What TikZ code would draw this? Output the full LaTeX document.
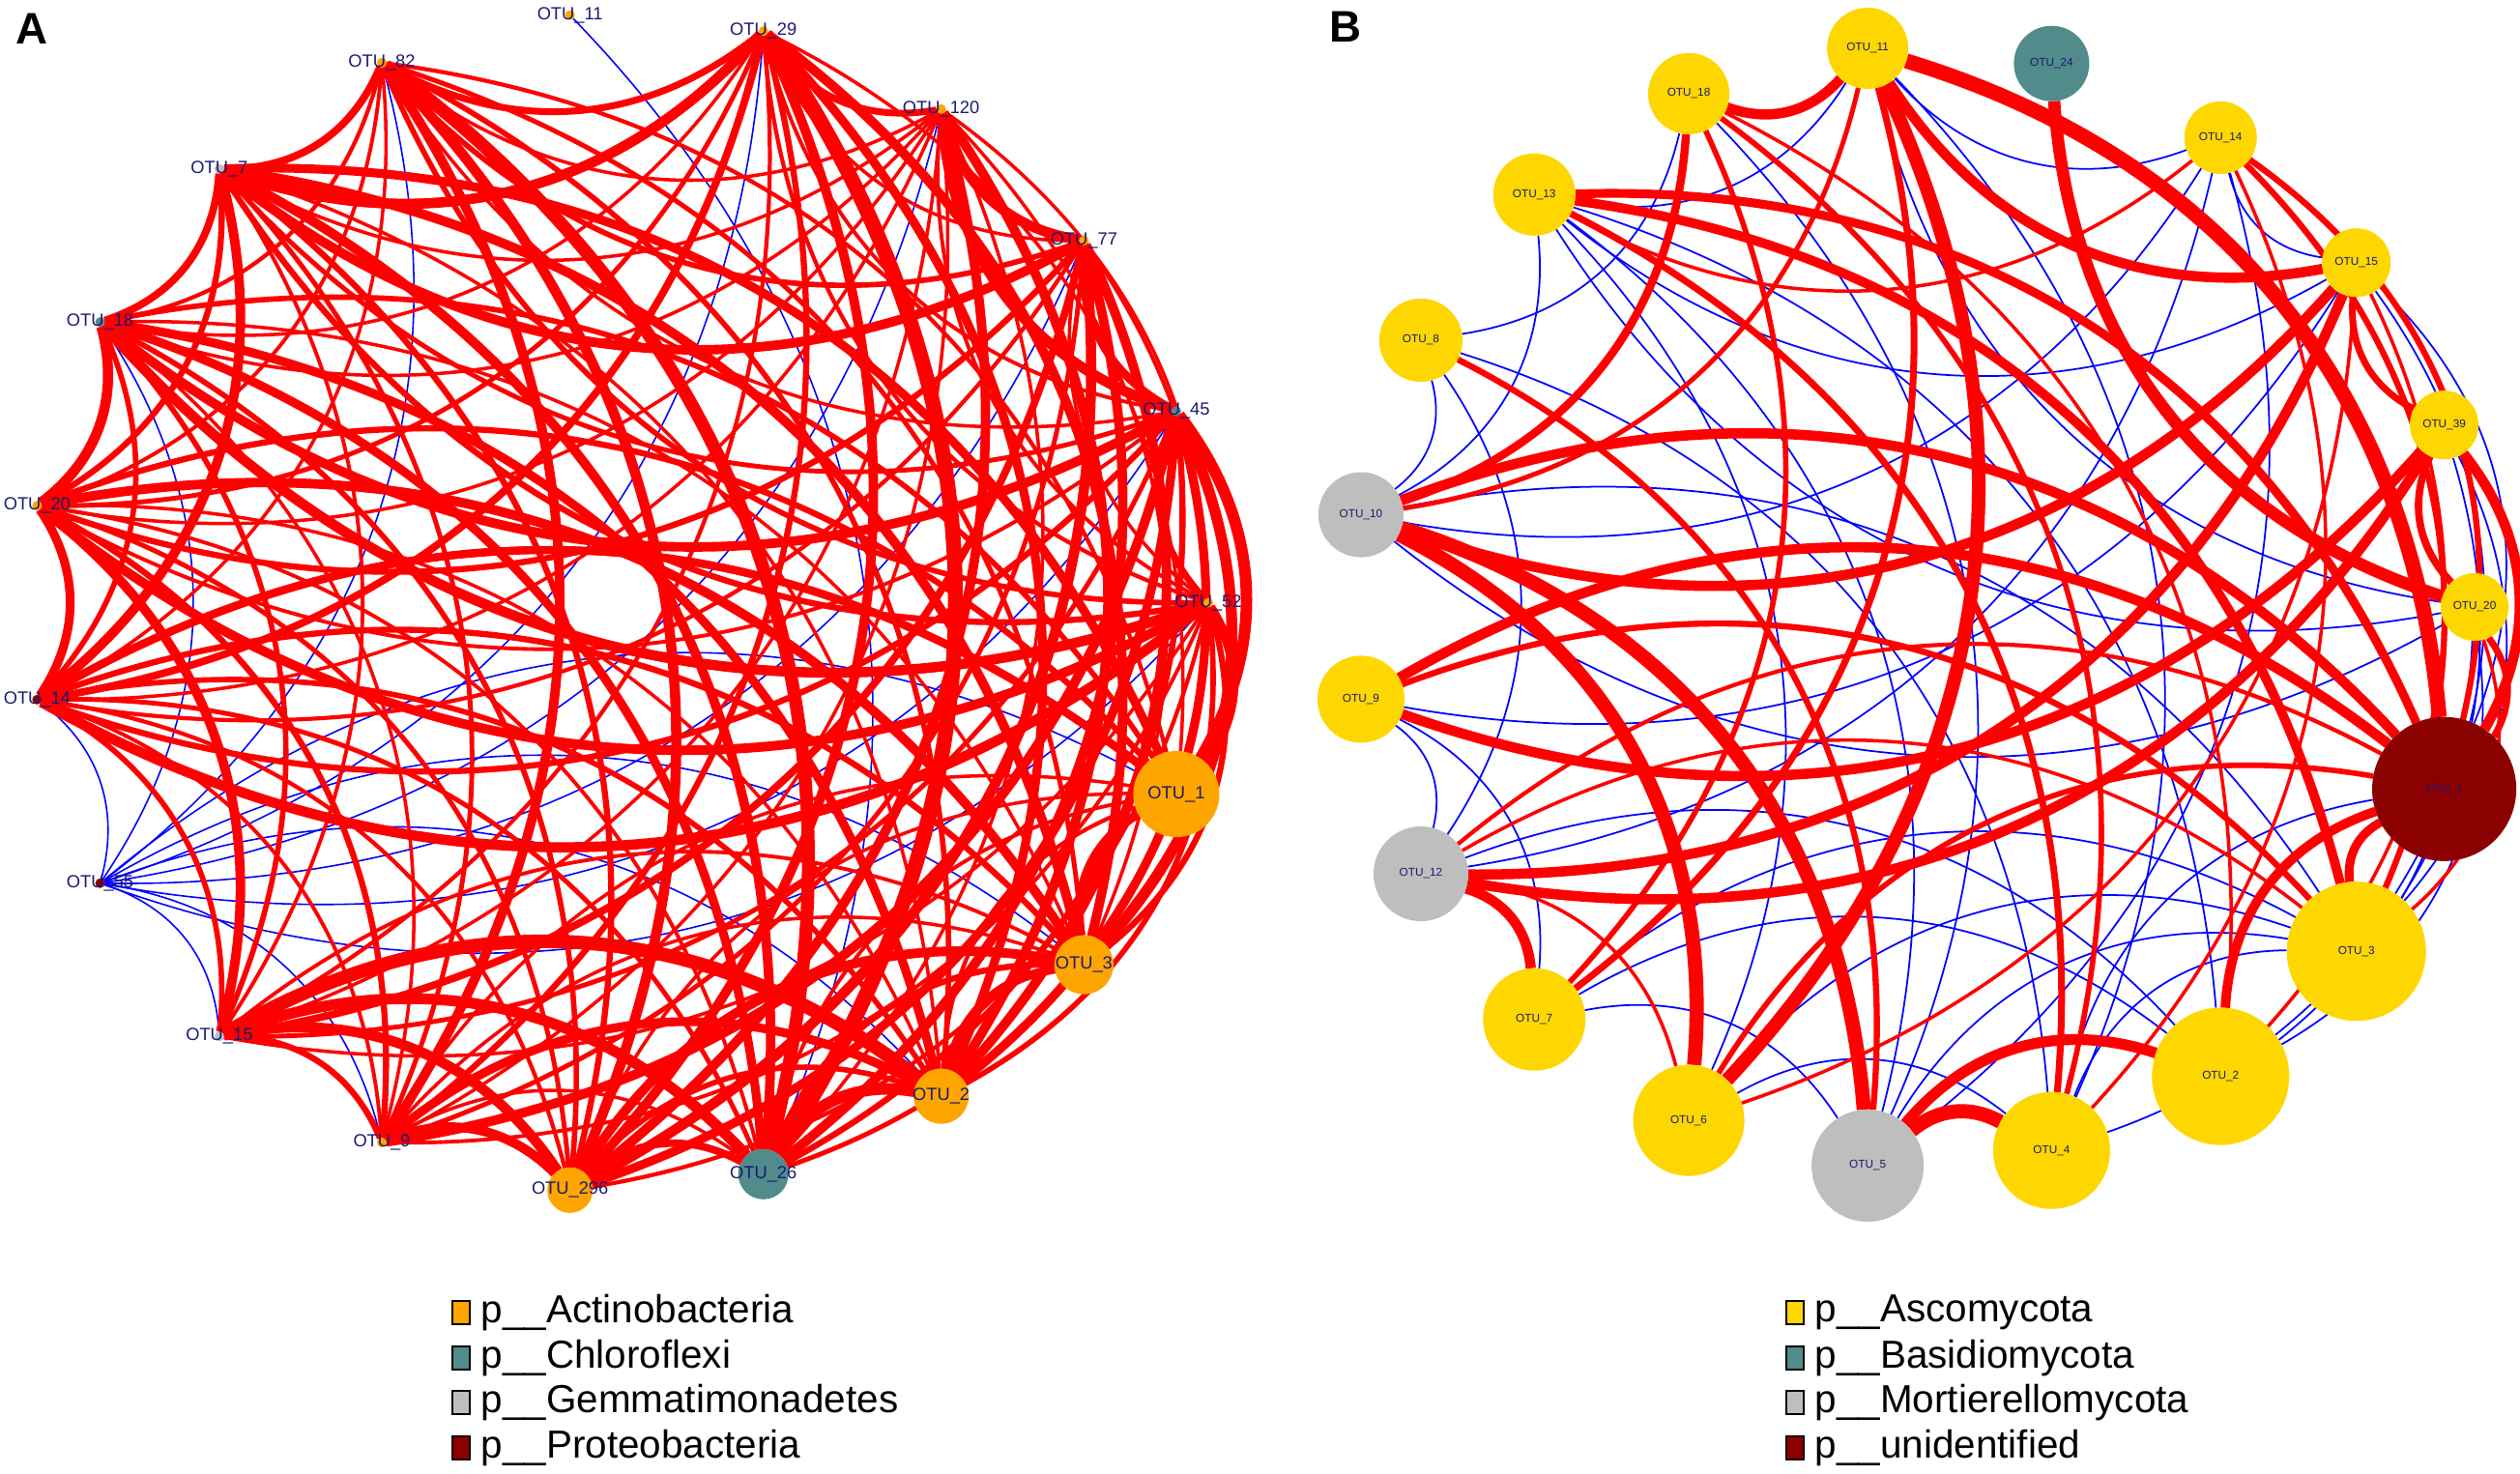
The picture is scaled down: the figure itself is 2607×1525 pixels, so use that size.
\documentclass[tikz,border=0pt]{standalone}
\usepackage{fontspec}
\setmainfont{Liberation Sans}
\pgfdeclarelayer{bgl}
\pgfdeclarelayer{edges}
\pgfsetlayers{bgl,edges,main}
\definecolor{actino}{HTML}{FFA500}
\definecolor{chloro}{HTML}{528B8B}
\definecolor{gemma}{HTML}{BEBEBE}
\definecolor{proteo}{HTML}{8B0000}
\definecolor{asco}{HTML}{FFD700}
\definecolor{navylab}{HTML}{1A1A70}
\definecolor{edgered}{HTML}{FF0000}
\definecolor{edgeblue}{HTML}{0000FF}
\begin{document}
\begin{tikzpicture}[x=0.01cm, y=0.01cm,
  vtx/.style={circle, inner sep=0pt, outer sep=0pt, draw=none},
  alab/.style={font=\fontsize{5.2}{6}\selectfont, text=navylab, inner sep=0pt},
  blab/.style={font=\fontsize{3.35}{4}\selectfont, text=navylab, inner sep=0pt},
  redE/.style={draw=edgered},
  blueE/.style={draw=edgeblue, line width=0.45pt},
  bendE/.style={bend left=34},
  legbox/.style={rectangle, draw=black, line width=0.5pt, minimum width=0.18cm, minimum height=0.24cm, inner sep=0pt},
  legtxt/.style={anchor=west, font=\fontsize{11.5}{13}\selectfont, inner sep=0pt},
  panel/.style={font=\bfseries\fontsize{13}{13}\selectfont, inner sep=0pt}
]
\useasboundingbox (0,0) rectangle (2607,1525);
\begin{pgfonlayer}{bgl}
\fill[white] (0,0) rectangle (2607,1525);
\end{pgfonlayer}

% ---------------- Panel A nodes ----------------
\begin{scope}[shift={(640,901.5)}]
\foreach \i/\n/\c/\d in {0/52/actino/0.10, 1/45/chloro/0.10, 2/77/actino/0.10, 3/120/actino/0.10,
  4/29/actino/0.10, 5/11/actino/0.10, 6/82/actino/0.10, 7/7/gemma/0.10, 8/18/chloro/0.10,
  9/20/actino/0.10, 10/14/proteo/0.10, 11/55/proteo/0.10, 12/15/gemma/0.10, 13/9/actino/0.10,
  14/296/actino/0.47, 15/26/chloro/0.52, 16/2/actino/0.57, 17/3/actino/0.61, 18/1/actino/0.89}{
  \node[vtx, fill=\c, minimum size=\d cm, label={[alab]center:OTU\_\n}] (a\i) at ({\i*360/19}:610) {};
}
\end{scope}

% ---------------- Panel B nodes ----------------
\begin{scope}[shift={(1980,897)}]
\foreach \i/\n/\c/\d in {0/20/asco/0.70, 1/39/asco/0.71, 2/15/asco/0.71, 3/14/asco/0.75,
  4/24/chloro/0.78, 5/11/asco/0.84, 6/18/asco/0.84, 7/13/asco/0.85, 8/8/asco/0.86,
  9/10/gemma/0.88, 10/9/asco/0.90, 11/12/gemma/0.98, 12/7/asco/1.06, 13/6/asco/1.15,
  14/5/gemma/1.16, 15/4/asco/1.21, 16/2/asco/1.42, 17/3/asco/1.44, 18/1/proteo/1.49}{
  \node[vtx, fill=\c, minimum size=\d cm, label={[blab]center:OTU\_\n}] (b\i) at ({\i*360/19}:580) {};
}
\end{scope}

% ---------------- Edges ----------------
\begin{pgfonlayer}{edges}
% A: blue
\foreach \i/\j in {5/15, 6/11, 8/11, 10/11, 11/12, 11/13, 11/16, 11/18, 0/11, 1/11, 2/11, 3/11, 4/11, 11/17}{
  \draw[blueE] (a\i) to[bendE] (a\j);
}
% A: red, dense
\foreach \i in {0,...,17}{
  \foreach \j in {1,...,18}{
    \ifnum\i<\j
      \pgfmathtruncatemacro\ok{(\i!=5)*(\i!=11)*(\j!=5)*(\j!=11)}
      \ifnum\ok=1
        \pgfmathtruncatemacro\h{mod(7*\i+11*\j+3*\i*\j,10)}
        \ifnum\h>0
          \pgfmathsetmacro\lw{{0,1.0,1.0,1.1,1.2,1.4,1.6,1.8,2.2,2.8}[\h]}
          \draw[redE, line width=\lw pt] (a\i) to[bendE] (a\j);
        \fi
      \fi
    \fi
  }
}
% A: red, neighbours round the ring
\foreach \i/\j/\w in {0/1/2.0, 1/2/2.4, 2/3/3.0, 3/4/2.0, 4/6/2.0, 6/7/2.2, 7/8/2.2, 8/9/3.0,
  9/10/2.6, 10/12/1.6, 12/13/1.8, 13/14/2.8, 14/15/2.2, 15/16/3.4, 16/17/2.6, 17/18/2.6, 0/18/2.8}{
  \draw[redE, line width=\w pt] (a\i) to[bendE] (a\j);
}
% A: red, thick
\foreach \i/\j/\w in {4/15/4.4, 6/15/3.8, 6/14/3.0, 4/7/3.0, 4/14/2.8, 2/7/2.8, 0/8/3.0,
  0/10/3.0, 10/18/2.4, 12/16/4.0, 12/15/3.2, 12/14/3.0, 13/16/2.6,
  2/14/3.0, 3/14/2.8, 1/14/2.6, 2/16/2.8, 1/16/2.6, 1/18/3.4, 1/17/3.2,
  1/3/3.0, 7/17/2.8, 7/18/2.6, 8/16/2.6, 8/15/2.6, 9/17/2.4,
  3/16/2.8, 4/16/2.6}{
  \draw[redE, line width=\w pt] (a\i) to[bendE] (a\j);
}
% B: blue
\foreach \i/\j in {0/5, 0/7, 0/9, 2/3, 2/7, 2/10, 2/17, 2/18, 1/17, 3/5, 3/11, 3/14, 3/9, 5/7,
  5/15, 6/8, 6/14, 7/9, 7/13, 7/14, 7/16, 8/9, 8/11, 8/15, 9/17, 10/11, 10/12, 11/16, 12/14,
  12/16, 12/17, 13/15, 13/17, 15/18, 15/17, 14/17, 0/16, 1/16, 0/15}{
  \draw[blueE, line width=0.5pt] (b\i) to[bendE] (b\j);
}
% B: red
\foreach \i/\j/\w in {5/18/4.4, 5/13/4.0, 5/12/2.0, 5/6/3.0, 2/5/3.0, 5/9/1.4, 0/4/3.6, 2/9/3.0,
  9/18/3.0, 9/13/4.2, 9/14/4.2, 6/9/2.4, 1/10/3.0, 10/18/3.0, 10/17/1.8, 2/11/3.0, 1/11/3.0,
  11/12/3.0, 11/18/1.2, 14/15/4.2, 14/16/3.2, 16/18/2.8, 17/18/2.6, 1/18/3.0, 0/18/2.0,
  1/2/2.0, 0/1/2.2, 7/17/2.8, 7/18/2.6, 7/15/2.0, 3/7/1.0, 3/18/1.8, 3/17/1.8, 2/13/1.0,
  6/16/1.0, 8/14/1.8, 6/12/1.6, 6/15/1.6, 3/15/1.0, 11/13/1.0, 13/18/1.6, 0/17/1.0,
  11/17/1.0, 2/16/1.0}{
  \draw[redE, line width=\w pt] (b\i) to[bendE] (b\j);
}
\end{pgfonlayer}

% ---------------- Panel letters ----------------
\node[panel] (pA) at (33,1495) {A};
\node[panel] (pB) at (1392,1497) {B};

% ---------------- Legends ----------------
\foreach \k/\y/\c/\t in {1/167/actino/Actinobacteria, 2/120/chloro/Chloroflexi,
  3/74/gemma/Gemmatimonadetes, 4/27/proteo/Proteobacteria}{
  \node[legbox, fill=\c] (lA\k) at (477,\y) {};
  \node[legtxt] (tA\k) at (497,\y) {p\_\_\t};
}
\foreach \k/\y/\c/\t in {1/167/asco/Ascomycota, 2/120/chloro/Basidiomycota,
  3/74/gemma/Mortierellomycota, 4/27/proteo/unidentified}{
  \node[legbox, fill=\c] (lB\k) at (1857,\y) {};
  \node[legtxt] (tB\k) at (1877,\y) {p\_\_\t};
}
\end{tikzpicture}
\end{document}
